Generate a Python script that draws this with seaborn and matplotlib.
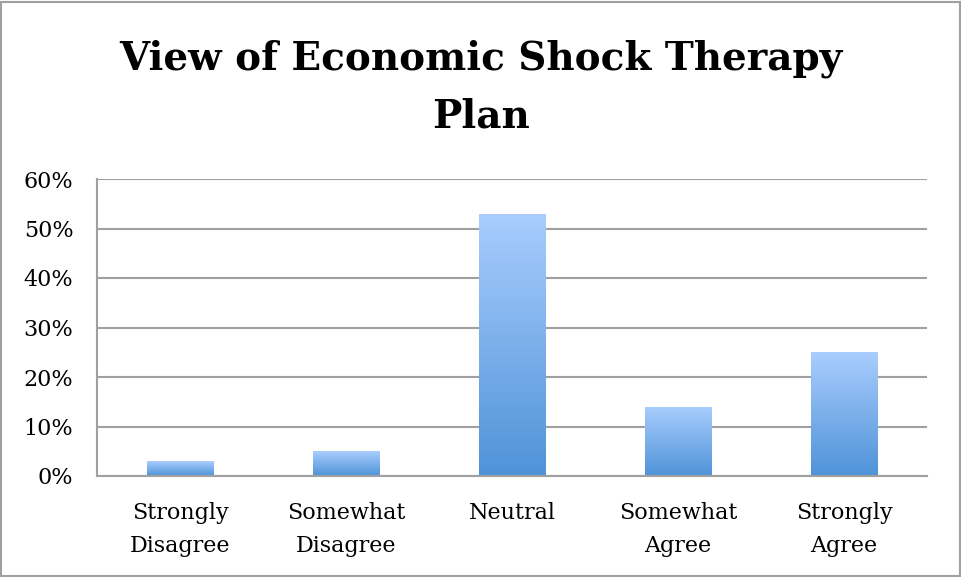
import numpy as np
import matplotlib
matplotlib.use("Agg")
import matplotlib.pyplot as plt
import matplotlib.patheffects as pe
from matplotlib.colors import LinearSegmentedColormap
from matplotlib.ticker import PercentFormatter
from matplotlib.patches import Rectangle
import seaborn as sns

# Survey responses
categories = ["Strongly\nDisagree", "Somewhat\nDisagree", "Neutral",
              "Somewhat\nAgree", "Strongly\nAgree"]
shares = [0.03, 0.05, 0.53, 0.14, 0.25]
y_ticks = [0.0, 0.1, 0.2, 0.3, 0.4, 0.5, 0.6]
title_lines = ["View of Economic Shock Therapy", "Plan"]

sns.set_theme(style="white")
plt.rcParams["font.family"] = ["DejaVu Serif"]
plt.rcParams["text.color"] = "black"

W, H = 961, 577
fig = plt.figure(figsize=(W / 100, H / 100), dpi=100)
ax = fig.add_axes([97 / W, (H - 476) / H, (927 - 97) / W, (476 - 179) / H])

sns.barplot(x=categories, y=shares, width=0.4, color="#5096DA",
            ax=ax, saturation=1, linewidth=0)

ax.set_ylim(0, 0.6)
ax.set_xlim(-0.5, len(categories) - 0.5)
ax.set_yticks(y_ticks)
ax.yaxis.set_major_formatter(PercentFormatter(1.0, decimals=0))
ax.grid(axis="y", color="#A0A0A0", linewidth=1.5)
ax.set_axisbelow(True)
for side in ["top", "right"]:
    ax.spines[side].set_visible(False)
for side in ["left", "bottom"]:
    ax.spines[side].set_color("#A0A0A0")
    ax.spines[side].set_linewidth(1.5)
ax.tick_params(axis="both", length=0, labelsize=16, labelcolor="black")
ax.tick_params(axis="y", pad=17)
ax.tick_params(axis="x", pad=19)
for lbl in ax.get_xticklabels():
    lbl.set_linespacing(1.65)

# Vertical light-to-dark blue gradient in each bar, with a soft shadow
cmap = LinearSegmentedColormap.from_list("barblue", ["#4F93D8", "#A9CDFE"])
grad = np.linspace(0, 1, 256).reshape(-1, 1)
for bar in ax.patches:
    x0, y0 = bar.get_x(), bar.get_y()
    w, h = bar.get_width(), bar.get_height()
    bar.set_path_effects([pe.SimplePatchShadow(offset=(0, -1.5), shadow_rgbFace="#888888", alpha=0.35),
                          pe.Normal()])
    im = ax.imshow(grad, cmap=cmap, origin="lower", aspect="auto",
                   extent=(x0, x0 + w, y0, y0 + h), zorder=bar.get_zorder() + 0.1)
    im.set_clip_path(bar)
ax.set_xlim(-0.5, len(categories) - 0.5)
ax.set_ylim(0, 0.6)

# Two-line bold title, each line placed on its own baseline
for line, base in zip(title_lines, [70, 127]):
    fig.text(0.5, 1 - base / H, line, ha="center", va="baseline",
             fontsize=28, fontweight="bold", color="black")

fig.patches.append(Rectangle((1 / W, 1 / H), (W - 2) / W, (H - 2.5) / H,
                             transform=fig.transFigure, fill=False,
                             edgecolor="#A0A0A0", linewidth=1.5))

fig.savefig("out.png", dpi=100)
